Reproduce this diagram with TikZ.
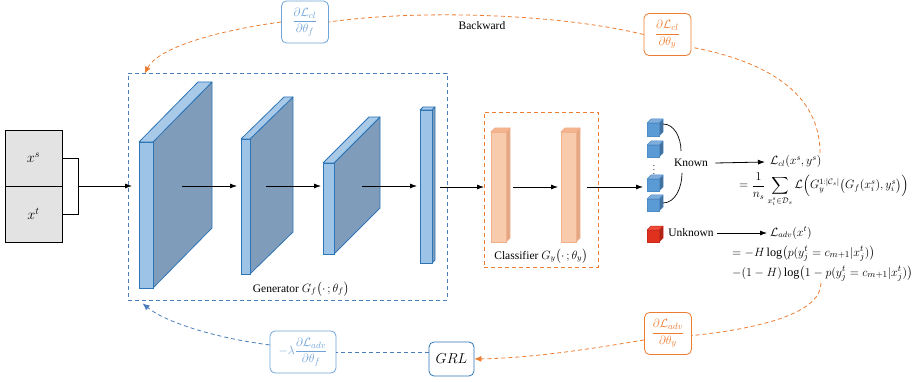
\documentclass[tikz,border=0pt]{standalone}
\usepackage{amsmath}
\usepackage{fontspec}
\setmainfont{Liberation Serif}
\usetikzlibrary{arrows.meta}

\definecolor{genedge}{HTML}{2E75B6}
\definecolor{genfront}{HTML}{9DC3E6}
\definecolor{genside}{HTML}{7F9DBA}
\definecolor{gentop}{HTML}{A9C9E9}
\definecolor{clsedge}{HTML}{F2B08A}
\definecolor{clsfront}{HTML}{F8CBAD}
\definecolor{clsside}{HTML}{E2A885}
\definecolor{clstop}{HTML}{F4B590}
\definecolor{cubeedge}{HTML}{4F8BC6}
\definecolor{cubefront}{HTML}{5B9BD5}
\definecolor{cubeside}{HTML}{41719C}
\definecolor{cubetop}{HTML}{7FAEDD}
\definecolor{rededge}{HTML}{C82A1C}
\definecolor{redfront}{HTML}{E0301E}
\definecolor{redside}{HTML}{B02418}
\definecolor{redtop}{HTML}{F04A3A}
\definecolor{bwdblue}{HTML}{4A7EBB}
\definecolor{lblblue}{HTML}{6FA3D8}
\definecolor{bwdorange}{HTML}{ED7D31}
\definecolor{inputgray}{HTML}{E3E3E3}

% cuboid: x0, top, x1, bottom, depth dx, depth dy, colour prefix
\newcommand\cuboid[7]{%
  \filldraw[draw=#7edge, fill=#7side, line join=round]
    (#3,#2) -- ({#3+#5},{#2+#6}) -- ({#3+#5},{#4+#6}) -- (#3,#4) -- cycle;
  \filldraw[draw=#7edge, fill=#7top, line join=round]
    (#1,#2) -- ({#1+#5},{#2+#6}) -- ({#3+#5},{#2+#6}) -- (#3,#2) -- cycle;
  \filldraw[draw=#7edge, fill=#7front] (#1,#2) rectangle (#3,#4);
}

\begin{document}
\begin{tikzpicture}[x=1pt,y=-1pt,
  every node/.style={font=\fontsize{11.5}{13}\selectfont},
  fwd/.style={draw=black, line width=0.8pt, -{Latex[length=7pt,width=5pt]}},
  inbox/.style={draw=black, fill=inputgray, line width=0.8pt, minimum width=57pt, minimum height=56pt, inner sep=0pt},
  genbox/.style={draw=bwdblue, line width=0.8pt, dash pattern=on 4pt off 3pt, minimum width=319pt, minimum height=227pt, inner sep=0pt},
  clsbox/.style={draw=bwdorange, line width=0.8pt, dash pattern=on 4pt off 3pt, minimum width=114pt, minimum height=155pt, inner sep=0pt},
  tag/.style={line width=0.8pt, rounded corners=5pt, inner sep=2pt, minimum height=42pt, minimum width=47pt, font=\fontsize{13}{15}\selectfont},
  bluetag/.style={tag, draw=lblblue, text=lblblue},
  orangetag/.style={tag, draw=bwdorange, text=bwdorange},
  grlbox/.style={draw=genedge, line width=0.8pt, rounded corners=5pt, minimum width=45pt, minimum height=34pt, inner sep=2pt, font=\fontsize{14}{16}\selectfont},
  bwdb/.style={draw=bwdblue, line width=0.8pt, dash pattern=on 4pt off 3pt},
  bwdo/.style={draw=bwdorange, line width=0.8pt, dash pattern=on 4pt off 3pt},
  tipb/.style={-{Latex[length=7pt,width=6pt]}},
  formula/.style={font=\fontsize{11.5}{13}\selectfont, inner sep=0pt},
  bigformula/.style={font=\fontsize{12.2}{14}\selectfont, inner sep=0pt}]
\useasboundingbox (0,0) rectangle (915,382);

% inputs
\node[inbox] (xs) at (33.5,158) {\fontsize{14}{16}\selectfont$x^s$};
\node[inbox] (xt) at (33.5,214) {\fontsize{14}{16}\selectfont$x^t$};
\draw[line width=0.8pt] (xs.east) -- ++(16,0) |- (xt.east);
\coordinate (inmid) at (78,186);

% generator and classifier frames
\node[genbox] (gen) at (287.5,186.5) {};
\node[clsbox] (cls) at (541,189.5) {};
\node (genlbl) at (301,289) {Generator $G_f\bigl(\cdot\,;\theta_f\bigr)$};
\node (clslbl) at (541,256) {Classifier $G_y\bigl(\cdot\,;\theta_y\bigr)$};

% generator layers
\begin{scope}[line width=0.8pt]
\cuboid{139}{142}{153}{288}{59}{-60}{gen}
\cuboid{241}{139}{250}{274}{43}{-42}{gen}
\cuboid{323}{163}{334}{254}{46}{-46}{gen}
\cuboid{420}{110}{432}{263}{3}{-3}{gen}
% classifier layers
\cuboid{491}{132}{506}{242}{4}{-4}{cls}
\cuboid{561}{132}{576}{242}{4}{-4}{cls}
\end{scope}

% output units
\begin{scope}[line width=0.5pt]
\cuboid{647}{123}{659}{136}{4}{-4}{cube}
\cuboid{647}{145}{659}{157}{4}{-4}{cube}
\cuboid{647}{179}{659}{191}{4}{-4}{cube}
\cuboid{647}{199}{659}{211}{4}{-4}{cube}
\cuboid{647}{230}{659}{242}{4}{-4}{red}
\end{scope}
\node[inner sep=0pt] (vdots) at (654,167) {\fontsize{9}{9}\selectfont$\vdots$};

% forward connectors
\coordinate (a1s) at (182,186); \coordinate (a1e) at (237,186);
\coordinate (a2s) at (266,186); \coordinate (a2e) at (321,186);
\coordinate (a3s) at (362,186); \coordinate (a3e) at (417,186);
\coordinate (a4s) at (440,187); \coordinate (a4e) at (484,187);
\coordinate (a5s) at (513,187); \coordinate (a5e) at (558,187);
\coordinate (a6s) at (587,187); \coordinate (a6e) at (643,187);
\coordinate (genin) at (132,186);
\draw[fwd] (inmid) -- (genin);
\draw[fwd] (a1s) -- (a1e);
\draw[fwd] (a2s) -- (a2e);
\draw[fwd] (a3s) -- (a3e);
\draw[fwd] (a4s) -- (a4e);
\draw[fwd] (a5s) -- (a5e);
\draw[fwd] (a6s) -- (a6e);

% known / unknown outputs
\node (known) at (691,163) {Known};
\node (unknown) at (691,233) {Unknown};
\coordinate (c1r) at (663,124);
\coordinate (c4r) at (663,203);
\coordinate (kt) at (681,151);
\coordinate (kb) at (682,173);
\draw[line width=0.7pt] (c1r) .. controls (674,124) and (681,137) .. (kt);
\draw[line width=0.7pt] (kb) .. controls (682,188) and (675,203) .. (c4r);

\node[formula, anchor=west] (lcl) at (770,162) {$\mathcal{L}_{cl}(x^s,y^s)$};
\node[formula, anchor=base west] (lclf) at (739,189)
  {$\displaystyle =\frac{1}{n_s}\sum_{x_i^s\in\mathcal{D}_s}\mathcal{L}\Bigl(G_y^{1:|\mathcal{C}_s|}\bigl(G_f(x_i^s),y_i^s\bigr)\Bigr)$};
\node[formula, anchor=west] (ladv) at (770,233) {$\mathcal{L}_{adv}(x^t)$};
\node[bigformula, anchor=base west] (ladvf1) at (732,256)
  {$=-H\log\bigl(p(y_j^t=c_{m+1}|x_j^t)\bigr)$};
\node[bigformula, anchor=base west] (ladvf2) at (732,276)
  {$-(1-H)\log\bigl(1-p(y_j^t=c_{m+1}|x_j^t)\bigr)$};
\draw[fwd] ([xshift=4pt]known.east) -- ([xshift=-5pt]lcl.west);
\draw[fwd] (unknown.east) -- ([xshift=-3pt]ladv.west);

% backward path, classification loss
\node (bwd) at (482,26) {Backward};
\node[bluetag] (dthf) at (305,22) {$\dfrac{\partial\mathcal{L}_{cl}}{\partial\theta_f}$};
\node[orangetag] (dthy) at (667.5,34.5) {$\dfrac{\partial\mathcal{L}_{cl}}{\partial\theta_y}$};
\coordinate (cltop) at (820,153);
\coordinate (gentip) at ([xshift=17pt,yshift=-1pt]gen.north west);
\draw[bwdo] (cltop) .. controls (820,95) and (770,62) .. (dthy.-28);
\draw[bwdo] (dthy.west) .. controls (560,14) and (420,9) .. (dthf.east);
\draw[bwdo, tipb, bwdorange] (dthf.west) .. controls (215,31) and (158,48) .. (gentip);

% backward path, adversarial loss
\node[orangetag] (dadvy) at (668,333.5) {$\dfrac{\partial\mathcal{L}_{adv}}{\partial\theta_y}$};
\node[grlbox] (grl) at (451.5,359) {$GRL$};
\node[bluetag, minimum width=66pt] (lam) at (303,352) {$-\lambda\dfrac{\partial\mathcal{L}_{adv}}{\partial\theta_f}$};
\coordinate (advbot) at (821,283);
\coordinate (genbtip) at ([xshift=15pt,yshift=-3pt]gen.south west);
\draw[bwdo] (advbot) .. controls (821,312) and (765,328) .. (dadvy.-5);
\draw[bwdo, tipb, bwdorange] (dadvy.195) .. controls (585,350) and (530,358) .. (grl.east);
\draw[bwdb] (grl.west |- lam.east) -- (lam.east);
\draw[bwdb, tipb, bwdblue] (lam.168) .. controls (215,338) and (165,322) .. (genbtip);
\end{tikzpicture}
\end{document}
